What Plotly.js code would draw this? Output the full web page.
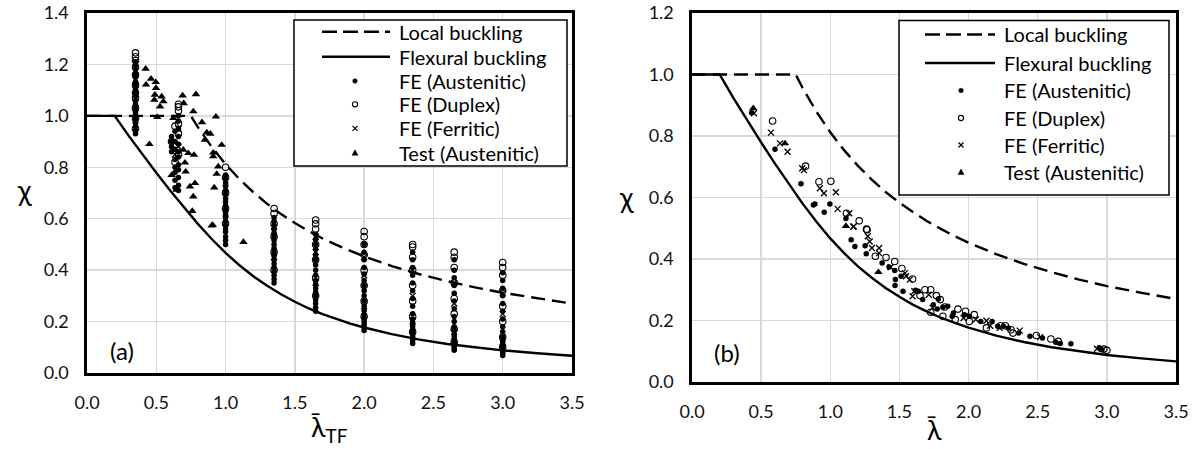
<!DOCTYPE html>
<html><head><meta charset="utf-8">
<script src="https://cdn.plot.ly/plotly-3.0.1.min.js"></script>
<style>html,body{margin:0;padding:0;background:#fff}#chart{width:1194px;height:449px}</style>
</head><body><div id="chart"></div>
<script>
// ---- design curves ----
const flexX = [0, 0.2, 0.3, 0.4, 0.5, 0.6, 0.7, 0.8, 0.9, 1.0, 1.1, 1.2, 1.3, 1.4, 1.5, 1.6, 1.7, 1.8, 1.9, 2.0, 2.2, 2.4, 2.6, 2.8, 3.0, 3.25, 3.5];
const flexY = [1, 1, 0.923, 0.850, 0.779, 0.710, 0.643, 0.580, 0.521, 0.467, 0.419, 0.376, 0.339, 0.306, 0.277, 0.251, 0.229, 0.209, 0.192, 0.177, 0.151, 0.130, 0.113, 0.100, 0.088, 0.077, 0.067];
const localX = [0, 0.75, 0.8, 0.9, 1.0, 1.1, 1.2, 1.3, 1.4, 1.5, 1.6, 1.7, 1.8, 1.9, 2.0, 2.2, 2.4, 2.6, 2.8, 3.0, 3.25, 3.5];
const localY = [1, 1, 0.956, 0.879, 0.812, 0.754, 0.703, 0.658, 0.618, 0.583, 0.552, 0.523, 0.498, 0.474, 0.453, 0.416, 0.384, 0.357, 0.333, 0.312, 0.290, 0.270];

// ---- panel (a): FE columns, x = lambda_TF ----
const colX = [0.35, 0.61, 0.635, 0.66, 1.0, 1.35, 1.65, 2.0, 2.35, 2.65, 3.0];
const ausA = [
  [0.93,0.942,0.958,0.97,0.987,1.0,1.014,1.03,1.046,1.058,1.075,1.09,1.104,1.12,1.133,1.15,1.163,1.18,1.196,1.21],
  [0.86,0.88,0.9,0.92],
  [0.72,0.75,0.78,0.8,0.83,0.87,0.9,0.94],
  [0.71,0.73,0.76,0.79,0.81,0.84,0.86,0.89,0.92,0.95,0.98,1.0],
  [0.5,0.515,0.53,0.548,0.56,0.575,0.59,0.605,0.62,0.635,0.65,0.665,0.68,0.695,0.71,0.725,0.74,0.755,0.77],
  [0.35,0.365,0.38,0.395,0.41,0.425,0.44,0.455,0.47,0.485,0.5,0.515,0.53,0.545,0.56,0.575,0.59,0.605],
  [0.24,0.255,0.27,0.285,0.3,0.315,0.33,0.345,0.36,0.38,0.4,0.42,0.44,0.46,0.48,0.5,0.52,0.54],
  [0.165,0.175,0.185,0.195,0.205,0.215,0.228,0.243,0.26,0.28,0.3,0.32,0.34,0.36,0.385,0.41,0.44,0.47,0.5],
  [0.115,0.124,0.133,0.142,0.151,0.16,0.17,0.182,0.196,0.21,0.23,0.26,0.29,0.32,0.35,0.38,0.41,0.44,0.47],
  [0.088,0.096,0.104,0.112,0.12,0.13,0.14,0.15,0.165,0.18,0.2,0.22,0.25,0.28,0.31,0.34,0.37,0.4,0.44],
  [0.068,0.075,0.082,0.09,0.098,0.106,0.115,0.125,0.14,0.16,0.18,0.21,0.24,0.27,0.3,0.33,0.36,0.39]
];
const dupA = [
  [0.95,0.99,1.03,1.07,1.09,1.12,1.16,1.19,1.215,1.23,1.245],
  [0.9],
  [0.82,0.96],
  [0.85,0.93,0.97,1.02,1.035,1.045],
  [0.58,0.64,0.7,0.76,0.8],
  [0.4,0.47,0.53,0.58,0.62,0.64],
  [0.3,0.37,0.44,0.5,0.56,0.58,0.595],
  [0.22,0.28,0.34,0.4,0.46,0.5,0.53,0.55],
  [0.16,0.22,0.28,0.34,0.4,0.45,0.49,0.5],
  [0.12,0.17,0.23,0.29,0.35,0.41,0.45,0.47],
  [0.1,0.14,0.2,0.26,0.32,0.38,0.41,0.43]
];
const ferA = [
  [0.965,1.01,1.05,1.1,1.14,1.175],
  [],
  [0.85],
  [0.88,0.95],
  [0.62,0.72],
  [0.45,0.55],
  [0.35,0.47,0.53],
  [0.26,0.38,0.45],
  [0.2,0.3,0.4],
  [0.16,0.27,0.35],
  [0.12,0.23,0.31]
];
const testAX = [0.423,0.426,0.462,0.496,0.498,0.49,0.486,0.539,0.551,0.527,0.507,0.45,0.69,0.786,0.698,0.767,0.93,0.623,0.83,0.864,0.89,0.851,0.972,0.911,0.695,0.731,0.772,0.911,0.947,0.936,0.707,0.712,0.611,0.647,0.743,0.779,0.767,0.918,0.76,0.9,0.907,1.129];
const testAY = [1.183,1.121,1.144,1.131,1.108,1.082,1.062,1.075,1.056,1.036,0.995,0.89,1.079,1.084,1.049,1.017,0.997,0.991,0.975,0.935,0.93,0.907,0.887,0.857,0.868,0.855,0.848,0.842,0.803,0.774,0.818,0.783,0.77,0.712,0.725,0.738,0.686,0.721,0.63,0.573,0.576,0.509];

// ---- panel (b): x = lambda ----
const ausBX = [0.431,0.6,0.788,0.889,0.878,0.997,0.956,1.113,1.151,1.178,1.252,1.26,1.375,1.425,1.466,1.471,1.512,1.468,1.526,1.616,1.636,1.668,1.781,1.745,1.773,1.814,1.849,1.89,1.882,1.97,2.005,2.088,2.17,2.211,2.252,2.288,2.362,2.444,2.534,2.63,2.663,2.74,2.945,2.964];
const ausBY = [0.876,0.757,0.645,0.579,0.576,0.579,0.552,0.532,0.463,0.441,0.443,0.417,0.387,0.374,0.363,0.333,0.344,0.314,0.295,0.298,0.295,0.268,0.27,0.251,0.237,0.243,0.246,0.224,0.214,0.219,0.214,0.197,0.197,0.181,0.181,0.176,0.159,0.149,0.143,0.129,0.125,0.124,0.111,0.105];
const dupBX = [0.583,0.821,0.918,1.004,1.117,1.209,1.262,1.266,1.326,1.403,1.466,1.518,1.595,1.685,1.726,1.649,1.767,1.795,1.726,1.827,1.814,1.923,1.978,2.041,1.904,2.005,2.129,2.233,2.266,2.307,2.321,2.49,2.595,2.649,2.978,3.0];
const dupBY = [0.849,0.702,0.651,0.653,0.549,0.524,0.497,0.495,0.409,0.405,0.392,0.369,0.335,0.3,0.3,0.281,0.281,0.268,0.227,0.244,0.214,0.237,0.23,0.219,0.203,0.197,0.176,0.183,0.183,0.17,0.159,0.151,0.14,0.132,0.107,0.103];
const ferBX = [0.448,0.571,0.636,0.691,0.809,0.797,0.925,0.954,1.04,1.053,1.137,1.166,1.17,1.271,1.285,1.301,1.353,1.353,1.436,1.54,1.548,1.575,1.595,1.608,1.712,1.74,1.964,2.052,2.129,2.156,2.225,2.37,2.518,2.929];
const ferBY = [0.874,0.811,0.776,0.749,0.689,0.695,0.63,0.614,0.617,0.563,0.549,0.505,0.506,0.474,0.457,0.436,0.436,0.419,0.373,0.354,0.344,0.333,0.279,0.295,0.284,0.241,0.208,0.203,0.199,0.183,0.176,0.167,0.146,0.108];
const testBX = [0.443,0.672,1.113,1.348];
const testBY = [0.89,0.776,0.507,0.357];

const seriesNames = ['Local buckling', 'Flexural buckling', 'FE (Austenitic)', 'FE (Duplex)', 'FE (Ferritic)', 'Test (Austenitic)'];

// ---- build ----
function flat(cols, vals){const xs=[],ys=[];vals.forEach((v,i)=>v.forEach(y=>{xs.push(cols[i]);ys.push(y);}));return [xs,ys];}
const [ausAX, ausAY] = flat(colX, ausA);
const [dupAX, dupAY] = flat(colX, dupA);
const [ferAX, ferAY] = flat(colX, ferA);

const FONT = 'Lato, "Open Sans", sans-serif';
const mAus = {symbol:'circle', size:5.5, color:'#000'};
const mDup = {symbol:'circle-open', size:6.5, color:'#000', line:{width:1.1,color:'#000'}};
const mFer = {symbol:'x-thin-open', size:6, color:'#000', line:{width:1.3,color:'#000'}};
const mTest = {symbol:'triangle-up', size:7.5, color:'#000'};
const lineLocal = {color:'#000', width:2.4, dash:'14px,7px'};
const lineFlex = {color:'#000', width:2.4};

function traces(ax, a, d, f, t){
  const xa = ax===1?'x':'x2', ya = ax===1?'y':'y2';
  const base = {type:'scatter', xaxis:xa, yaxis:ya, showlegend:false};
  return [
    Object.assign({mode:'lines', x:localX, y:localY, name:seriesNames[0], line:lineLocal}, base),
    Object.assign({mode:'lines', x:flexX, y:flexY, name:seriesNames[1], line:lineFlex}, base),
    Object.assign({mode:'markers', x:a[0], y:a[1], name:seriesNames[2], marker:mAus}, base),
    Object.assign({mode:'markers', x:d[0], y:d[1], name:seriesNames[3], marker:mDup}, base),
    Object.assign({mode:'markers', x:f[0], y:f[1], name:seriesNames[4], marker:mFer}, base),
    Object.assign({mode:'markers', x:t[0], y:t[1], name:seriesNames[5], marker:mTest}, base)
  ];
}
const data = [].concat(
  traces(1,[ausAX,ausAY],[dupAX,dupAY],[ferAX,ferAY],[testAX,testAY]),
  traces(2,[ausBX,ausBY],[dupBX,dupBY],[ferBX,ferBY],[testBX,testBY])
);

const W=1194,H=449;
const PX = p => p/W, PY = p => 1-p/H;
function ax(d0,d1,range,dtick){
  return {domain:[d0,d1], range:range, dtick:dtick, tick0:0, tickformat:'.1f',
    showline:true, mirror:true, linecolor:'#000', linewidth:2.6,
    showgrid:true, gridcolor:'#d9d9d9', gridwidth:1.3, zeroline:false,
    ticks:'', ticklabelstandoff:12, tickfont:{family:FONT,size:18,color:'#111'}, fixedrange:true};
}
function ann(x,y,text,size,xanchor){
  return {xref:'paper', yref:'paper', x:PX(x), y:PY(y), xanchor:xanchor||'center', yanchor:'middle', text:text, showarrow:false, font:{family:FONT,size:size,color:'#000'}};
}

// ---- legend boxes (drawn as paper shapes + text annotations) ----
const legendSpecs = [
  {box:[294,567,20,166], rows:[31.7,56.7,81,104.3,128.3,152.7], line:[322,390], sym:355, text:397},
  {box:[899,1169,20.5,195], rows:[34.5,63,90.5,118,145,172], line:[925,995], sym:961, text:1002}
];
const shapes = [], annotations = [];
legendSpecs.forEach(L=>{
  shapes.push({type:'rect', xref:'paper', yref:'paper', x0:PX(L.box[0]), x1:PX(L.box[1]), y0:PY(L.box[2]), y1:PY(L.box[3]), line:{color:'#000',width:1.5}, fillcolor:'#fff', layer:'above'});
  const r = L.rows;
  shapes.push({type:'line', xref:'paper', yref:'paper', x0:PX(L.line[0]), x1:PX(L.line[1]), y0:PY(r[0]), y1:PY(r[0]), line:{color:'#000',width:2.4,dash:'15px,6px'}, layer:'above'});
  shapes.push({type:'line', xref:'paper', yref:'paper', x0:PX(L.line[0]), x1:PX(L.line[1]), y0:PY(r[1]), y1:PY(r[1]), line:{color:'#000',width:2.4}, layer:'above'});
  const s = L.sym;
  shapes.push({type:'circle', xref:'paper', yref:'paper', x0:PX(s-2.3), x1:PX(s+2.3), y0:PY(r[2]-2.3), y1:PY(r[2]+2.3), line:{color:'#000',width:0.5}, fillcolor:'#000', layer:'above'});
  shapes.push({type:'circle', xref:'paper', yref:'paper', x0:PX(s-2.6), x1:PX(s+2.6), y0:PY(r[3]-2.6), y1:PY(r[3]+2.6), line:{color:'#000',width:1.1}, fillcolor:'#fff', layer:'above'});
  shapes.push({type:'line', xref:'paper', yref:'paper', x0:PX(s-2.5), x1:PX(s+2.5), y0:PY(r[4]-2.5), y1:PY(r[4]+2.5), line:{color:'#000',width:1.2}, layer:'above'});
  shapes.push({type:'line', xref:'paper', yref:'paper', x0:PX(s-2.5), x1:PX(s+2.5), y0:PY(r[4]+2.5), y1:PY(r[4]-2.5), line:{color:'#000',width:1.2}, layer:'above'});
  shapes.push({type:'path', xref:'paper', yref:'paper', path:`M${PX(s-3)},${PY(r[5]+2.6)} L${PX(s+3)},${PY(r[5]+2.6)} L${PX(s)},${PY(r[5]-3)} Z`, line:{color:'#000',width:0.5}, fillcolor:'#000', layer:'above'});
  seriesNames.forEach((n,i)=>annotations.push(ann(L.text, r[i], n, 20, 'left')));
});
annotations.push(
  ann(24,190,'χ',28),
  ann(626,197,'χ',28),
  ann(330,428,'λ\u0304<sub>TF</sub>',27),
  ann(934,429,'λ\u0304',27),
  ann(122,350,'(a)',24),
  ann(727,352,'(b)',24)
);

const layout = {
  width:W, height:H, margin:{l:0,r:0,t:0,b:0}, paper_bgcolor:'#fff', plot_bgcolor:'#fff', showlegend:false,
  xaxis: ax(87/W, 572/W, [0,3.5], 0.5),
  yaxis: ax(1-373/H, 1-13/H, [0,1.4], 0.2),
  xaxis2: Object.assign(ax(692/W, 1176/W, [0,3.5], 0.5), {anchor:'y2'}),
  yaxis2: Object.assign(ax(1-382/H, 1-13/H, [0,1.2], 0.2), {anchor:'x2'}),
  shapes: shapes,
  annotations: annotations
};
Plotly.newPlot('chart', data, layout, {staticPlot:true, displayModeBar:false});
</script></body></html>
